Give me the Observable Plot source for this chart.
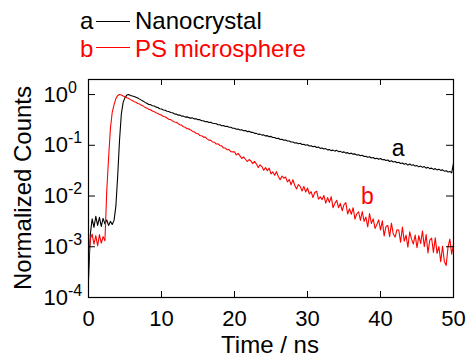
<!DOCTYPE html>
<html><head><meta charset="utf-8">
<script src="https://cdn.jsdelivr.net/npm/d3@7"></script>
<script src="https://cdn.jsdelivr.net/npm/@observablehq/plot@0.6"></script>
<style>
body{margin:0;background:#fff;}
#wrap{position:relative;width:468px;height:357px;font-family:"Liberation Sans",Arial,sans-serif;color:#000;overflow:hidden;}
.t{position:absolute;font-size:24px;line-height:24px;white-space:nowrap;}
.ln{position:absolute;height:1px;width:34px;left:96px;}
</style></head><body>
<div id="wrap"><div id="chart" style="position:absolute;left:0;top:0"></div></div>
<script>
// Series metadata
const seriesKeys = ["a", "b"];
const seriesNames = ["Nanocrystal", "PS microsphere"];
const seriesColors = ["#000000", "#ff0000"];
const xTitle = "Time / ns";
const yTitle = "Normalized Counts";
const xTicks = [0, 10, 20, 30, 40, 50];
const yTicks = [1e-4, 1e-3, 1e-2, 1e-1, 1];

// sampling step of the decay traces (ns)
const timeStep = 0.25;

// log10 of normalized counts, trace a (Nanocrystal), t = 0 .. 50 ns
const log10CountsA = [
 -3.65, -2.75, -2.45, -2.62, -2.40, -2.58, -2.42, -2.60, -2.44, -2.55,
 -2.47, -2.58, -2.50, -2.56, -2.48, -2.20, -1.60, -0.90, -0.38, -0.15,
 -0.06, -0.01, 0.00, -0.02, -0.03, -0.04, -0.055, -0.07, -0.09, -0.11,
 -0.13, -0.155, -0.17, -0.195, -0.198, -0.22, -0.225, -0.248, -0.255, -0.28,
 -0.285, -0.305, -0.31, -0.33, -0.335, -0.355, -0.36, -0.38, -0.385, -0.405,
 -0.405, -0.425, -0.425, -0.445, -0.44, -0.455, -0.465, -0.46, -0.48, -0.478,
 -0.495, -0.495, -0.515, -0.515, -0.535, -0.53, -0.55, -0.545, -0.565, -0.57,
 -0.575, -0.595, -0.595, -0.615, -0.61, -0.63, -0.625, -0.645, -0.645, -0.665,
 -0.665, -0.685, -0.68, -0.70, -0.695, -0.715, -0.71, -0.73, -0.725, -0.745,
 -0.745, -0.765, -0.765, -0.785, -0.78, -0.80, -0.795, -0.815, -0.81, -0.83,
 -0.825, -0.845, -0.845, -0.865, -0.86, -0.885, -0.88, -0.90, -0.895, -0.915,
 -0.915, -0.935, -0.935, -0.955, -0.95, -0.97, -0.96, -0.985, -0.98, -1.00,
 -0.99, -1.015, -1.01, -1.03, -1.02, -1.045, -1.035, -1.06, -1.055, -1.075,
 -1.065, -1.09, -1.085, -1.105, -1.095, -1.115, -1.10, -1.125, -1.12, -1.14,
 -1.13, -1.155, -1.145, -1.165, -1.155, -1.175, -1.17, -1.19, -1.185, -1.205,
 -1.195, -1.22, -1.215, -1.235, -1.225, -1.25, -1.24, -1.265, -1.255, -1.275,
 -1.26, -1.285, -1.28, -1.30, -1.29, -1.32, -1.305, -1.33, -1.32, -1.345,
 -1.335, -1.36, -1.35, -1.375, -1.36, -1.39, -1.37, -1.395, -1.385, -1.41,
 -1.40, -1.425, -1.41, -1.435, -1.42, -1.45, -1.435, -1.46, -1.45, -1.475,
 -1.46, -1.485, -1.47, -1.495, -1.485, -1.51, -1.50, -1.525, -1.515, -1.545,
 -1.35
];

// log10 of normalized counts, trace b (PS microsphere), t = 0 .. 50 ns
const log10CountsB = [
 -3.30, -2.85, -2.75, -2.95, -2.78, -2.98, -2.76, -2.93, -2.80, -2.88,
 -1.90, -1.25, -0.67, -0.35, -0.20, -0.08, -0.02, 0.00, -0.01, -0.03,
 -0.045, -0.065, -0.078, -0.10, -0.118, -0.14, -0.152, -0.175, -0.188, -0.212,
 -0.228, -0.252, -0.268, -0.29, -0.30, -0.325, -0.337, -0.36, -0.372, -0.395,
 -0.405, -0.433, -0.437, -0.463, -0.486, -0.494, -0.518, -0.541, -0.545, -0.567,
 -0.596, -0.602, -0.634, -0.646, -0.674, -0.677, -0.697, -0.727, -0.735, -0.764,
 -0.772, -0.808, -0.811, -0.839, -0.84, -0.873, -0.899, -0.904, -0.934, -0.939,
 -0.975, -0.971, -1.004, -1.012, -1.054, -1.054, -1.088, -1.086, -1.125, -1.129,
 -1.13, -1.19, -1.16, -1.21, -1.26, -1.23, -1.275, -1.32, -1.28, -1.31,
 -1.36, -1.315, -1.37, -1.44, -1.385, -1.42, -1.49, -1.44, -1.50, -1.45,
 -1.565, -1.525, -1.59, -1.52, -1.615, -1.68, -1.605, -1.65, -1.625, -1.72,
 -1.675, -1.78, -1.68, -1.79, -1.86, -1.775, -1.81, -1.90, -1.81, -1.92,
 -1.84, -1.96, -1.915, -2.03, -1.93, -1.905, -2.06, -2.015, -2.07, -1.99,
 -2.14, -2.03, -2.125, -2.015, -2.23, -2.145, -2.085, -2.23, -2.145, -2.29,
 -2.17, -2.13, -2.355, -2.25, -2.36, -2.23, -2.455, -2.35, -2.31, -2.48,
 -2.305, -2.50, -2.415, -2.61, -2.345, -2.54, -2.45, -2.64, -2.56, -2.47,
 -2.67, -2.49, -2.785, -2.60, -2.58, -2.80, -2.535, -2.75, -2.81, -2.665,
 -2.67, -2.91, -2.61, -2.89, -2.77, -3.01, -2.705, -2.85, -2.945, -2.77,
 -3.02, -2.78, -2.935, -2.69, -3.00, -2.76, -3.12, -2.87, -2.83, -3.11,
 -2.825, -3.13, -2.995, -3.295, -2.99, -3.29, -3.37, -3.00, -2.85, -3.145,
 -2.95
];

// in-plot curve labels
const labelText = ["a", "b"];
const labelTime = [42.4, 38.2];
const labelCount = [0.087, 0.0097];

const rowsA = log10CountsA.map((v, i) => ({t: i * timeStep, c: Math.pow(10, v)}));
const rowsB = log10CountsB.map((v, i) => ({t: i * timeStep, c: Math.pow(10, v)}));
const labels = labelText.map((s, i) => ({s, t: labelTime[i], c: labelCount[i], col: seriesColors[i]}));

const W = 468, H = 357, mL = 88, mR = 15, mT = 79, mB = 60;
const pw = W - mL - mR, ph = H - mT - mB;
const font = '"Liberation Sans", Arial, sans-serif';

const plot = Plot.plot({
  width: W, height: H,
  marginTop: mT, marginBottom: mB, marginLeft: mL, marginRight: mR,
  style: {fontFamily: font, fontSize: "22px", background: "transparent", color: "#000"},
  x: {domain: [0, 50]},
  y: {type: "log", domain: [1e-4, 1.98]},
  marks: [
    Plot.line(rowsA, {x: "t", y: "c", stroke: seriesColors[0], strokeWidth: 1.1}),
    Plot.line(rowsB, {x: "t", y: "c", stroke: seriesColors[1], strokeWidth: 1.1}),
    Plot.frame({stroke: "#000", strokeWidth: 1.2}),
    Plot.ruleX(xTicks, {x: d => d, insetTop: ph - 6, stroke: "#000"}),
    Plot.ruleX(xTicks, {x: d => d, insetBottom: ph - 6, stroke: "#000"}),
    Plot.ruleY(yTicks, {y: d => d, insetRight: pw - 7, stroke: "#000"}),
    Plot.ruleY(yTicks, {y: d => d, insetLeft: pw - 7, stroke: "#000"}),
    Plot.axisX(xTicks, {tickSize: 0, tickPadding: 13, fontSize: 22, label: null}),
    Plot.axisY(yTicks, {tickSize: 0, tickPadding: 0, textAnchor: "start", dx: -45, fontSize: 22, label: null,
      tickFormat: d => String(Math.round(Math.log10(d)))}),
    Plot.text(labels, {x: "t", y: "c", text: "s", fill: "col", fontSize: 23})
  ]
});

// superscript exponents for y tick labels
plot.querySelectorAll('g[aria-label="y-axis tick label"] text').forEach(t => {
  const e = t.textContent.replace("\u2212", "-");
  t.textContent = "10";
  const ts = document.createElementNS("http://www.w3.org/2000/svg", "tspan");
  ts.setAttribute("dy", "-9");
  ts.setAttribute("font-size", "16");
  ts.textContent = e;
  t.appendChild(ts);
});
document.getElementById("chart").appendChild(plot);

// legend and axis titles (HTML text)
const wrap = document.getElementById("wrap");
function addDiv(cls, style, text) {
  const d = document.createElement("div");
  d.className = cls;
  d.setAttribute("style", style);
  if (text != null) d.textContent = text;
  wrap.appendChild(d);
}
seriesKeys.forEach((k, i) => {
  const top = 9 + i * 28;
  addDiv("t", `left:80px;top:${top}px;color:${seriesColors[i]}`, k);
  addDiv("ln", `top:${21 + i * 26}px;background:${seriesColors[i]}`);
  addDiv("t", `left:135px;top:${top}px;color:${seriesColors[i]}`, seriesNames[i]);
});
addDiv("t", "left:170px;width:200px;text-align:center;top:333px", xTitle);
addDiv("t", "left:23px;top:188px;transform:translate(-50%,-50%) rotate(-90deg)", yTitle);
</script>
</body></html>
